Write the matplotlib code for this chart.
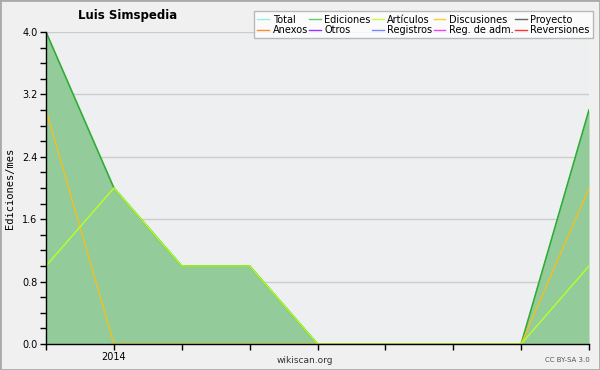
import matplotlib
matplotlib.use("Agg")
import matplotlib.pyplot as plt
from matplotlib.patches import Rectangle

# monthly data, Dec 2013 .. Aug 2014
months = ["2013-12", "2014-01", "2014-02", "2014-03", "2014-04",
          "2014-05", "2014-06", "2014-07", "2014-08"]
tick_labels = ["", "2014", "", "", "", "", "", "", ""]
total = [4, 2, 1, 1, 0, 0, 0, 0, 3]
ediciones = [4, 2, 1, 1, 0, 0, 0, 0, 3]
articulos = [1, 2, 1, 1, 0, 0, 0, 0, 1]
discusiones = [3, 0, 0, 0, 0, 0, 0, 0, 2]

legend_names = ["Total", "Ediciones", "Artículos", "Discusiones", "Proyecto",
                "Anexos", "Otros", "Registros", "Reg. de adm.", "Reversiones"]
legend_colors = ["#99eedd", "#66cc66", "#ccff33", "#ffcc33", "#666666",
                 "#ff8833", "#9933ff", "#7788ff", "#ee44ee", "#ff3333"]

plt.rcParams["font.family"] = ["DejaVu Sans"]

fig = plt.figure(figsize=(6, 3.7), dpi=100, facecolor="#f0f0f0")
fig.patches.append(Rectangle((0, 0), 1, 1, transform=fig.transFigure,
                             fill=False, edgecolor="#aaaaaa", linewidth=2))
ax = fig.add_axes([0.0767, 0.0703, 0.905, 0.8432], facecolor="#eeeff1")

x = list(range(len(months)))
ax.fill_between(x, 0, ediciones, color="#93cc9a", linewidth=0, zorder=2)
ax.plot(x, total, color="#99eedd", linewidth=1, zorder=3)
ax.plot(x, ediciones, color="#33aa33", linewidth=1.2, zorder=4)
ax.plot(x, discusiones, color="#f0c020", linewidth=1, zorder=5)
ax.plot(x, articulos, color="#bbff22", linewidth=1, zorder=6)

ax.set_xlim(0, len(months) - 1)
ax.set_ylim(0, 4.0)
ax.set_xticks(x)
ax.set_xticklabels(tick_labels, fontsize=7)
ax.set_yticks([0.0, 0.8, 1.6, 2.4, 3.2, 4.0])
ax.set_yticklabels(["0.0", "0.8", "1.6", "2.4", "3.2", "4.0"], fontsize=7)
ax.set_yticks([i * 0.2 for i in range(21)], minor=True)
ax.tick_params(axis="both", which="major", length=4, width=1, pad=2)
ax.tick_params(axis="y", which="minor", length=4, width=1)
ax.grid(axis="y", color="#cccccc", linewidth=1, zorder=1)
ax.set_axisbelow(True)
for s in ["top", "right"]:
    ax.spines[s].set_visible(False)
ax.spines["left"].set_linewidth(1)
ax.spines["bottom"].set_linewidth(1)
ax.spines["left"].set_zorder(7)
ax.spines["bottom"].set_zorder(7)

ax.set_ylabel("Ediciones/mes", fontsize=7.5, family="DejaVu Sans Mono", labelpad=5)
fig.text(0.213, 0.958, "Luis Simspedia", fontsize=8.5, fontweight="bold",
         ha="center", va="center")
fig.text(0.508, 0.027, "wikiscan.org", fontsize=6.5, ha="center", va="center",
         color="#333333")
fig.text(0.983, 0.027, "CC BY-SA 3.0", fontsize=5, ha="right", va="center",
         color="#555555")

handles = [plt.Line2D([], [], color=c, linewidth=1) for c in legend_colors]
order = []
for col in range(5):
    order += [col, col + 5]
leg = fig.legend([handles[i] for i in order], [legend_names[i] for i in order],
                 ncol=5, loc="upper right", bbox_to_anchor=(0.988, 0.97),
                 fontsize=7, frameon=True, fancybox=False, handlelength=1.2,
                 handletextpad=0.35, columnspacing=0.15, labelspacing=0.05,
                 borderpad=0.35, borderaxespad=0)
leg.get_frame().set_edgecolor("#aaaaaa")
leg.get_frame().set_facecolor("white")
leg.get_frame().set_linewidth(1)

fig.savefig("out.png", dpi=100, facecolor=fig.get_facecolor())
